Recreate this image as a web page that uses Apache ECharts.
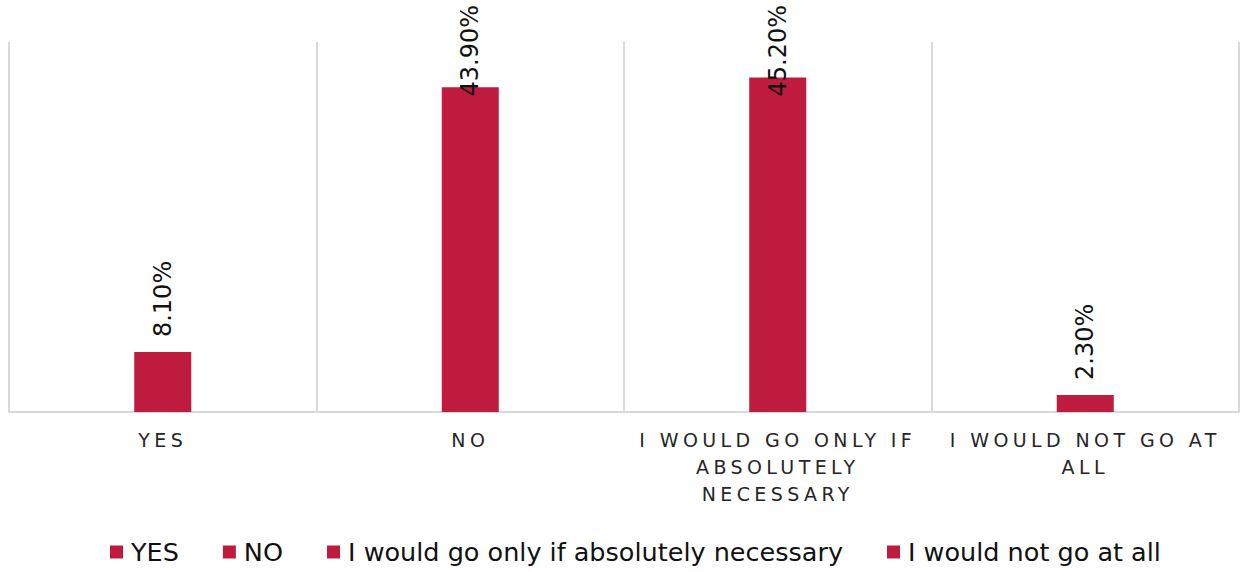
<!DOCTYPE html>
<html>
<head>
<meta charset="utf-8">
<script src="https://cdn.jsdelivr.net/npm/echarts@6/dist/echarts.min.js"></script>
<style>
html,body{margin:0;padding:0;background:#fff}
#c{width:1245px;height:572px}
#c text[style*="19px"]{letter-spacing:4.4px}
</style>
</head>
<body>
<div id="c"></div>
<script>
const categories = ['YES', 'NO', 'I would go only if absolutely necessary', 'I would not go at all'];
const tickLabels = ['YES', 'NO', 'I WOULD GO ONLY IF\nABSOLUTELY\nNECESSARY', 'I WOULD NOT GO AT\nALL'];
const values = [8.1, 43.9, 45.2, 2.3];
const barColor = '#BE1B3E';
const font = 'DejaVu Sans';
const labelFontSize = 24;
const labelGap = 15;
const topLimit = 5;

const fmt = v => v.toFixed(2) + '%';

function buildSeries(distances) {
  return categories.map((name, i) => ({
    name: name,
    type: 'bar',
    stack: 'all',
    barWidth: 57,
    itemStyle: { color: barColor },
    data: values.map((v, j) => (j === i ? v : '-')),
    label: {
      show: true,
      position: 'top',
      rotate: 90,
      align: 'left',
      verticalAlign: 'middle',
      distance: distances[i],
      color: '#111',
      fontFamily: font,
      fontSize: labelFontSize,
      formatter: p => fmt(p.value)
    }
  }));
}

const chart = echarts.init(document.getElementById('c'), null, { renderer: 'svg' });
chart.setOption({
  animation: false,
  grid: { left: 9, right: 6, top: 42, bottom: 160, containLabel: false },
  xAxis: {
    type: 'category',
    data: tickLabels,
    boundaryGap: true,
    axisLine: { show: true, lineStyle: { color: '#D9D9D9', width: 2 } },
    axisTick: { show: false },
    splitLine: { show: true, interval: 0, lineStyle: { color: '#D9D9D9', width: 2 } },
    axisLabel: {
      interval: 0,
      margin: 14,
      color: '#262626',
      fontFamily: font,
      fontSize: 19,
      lineHeight: 27
    }
  },
  yAxis: {
    type: 'value',
    min: 0,
    max: 50,
    show: false,
    splitLine: { show: false }
  },
  legend: {
    data: categories,
    bottom: 2,
    left: 105,
    itemWidth: 13,
    itemHeight: 13,
    itemGap: 44,
    icon: 'rect',
    textStyle: { fontFamily: font, fontSize: 25.5, color: '#111', padding: [0, 0, 0, 3] }
  },
  series: buildSeries(values.map(() => labelGap))
});

// keep labels inside the chart: pull a label down when it would run off the top
const ctx = document.createElement('canvas').getContext('2d');
ctx.font = labelFontSize + 'px "' + font + '"';
const distances = values.map((v, i) => {
  const top = chart.convertToPixel({ gridIndex: 0 }, [i, v])[1];
  const len = ctx.measureText(fmt(v)).width;
  return Math.min(labelGap, top - topLimit - len);
});
chart.setOption({ series: buildSeries(distances) });
</script>
</body>
</html>
